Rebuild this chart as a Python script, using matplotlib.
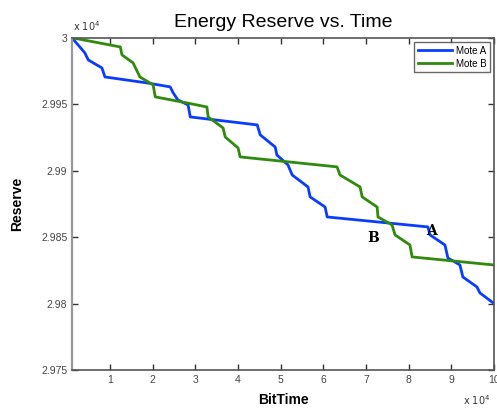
import matplotlib
matplotlib.use("Agg")
import matplotlib.pyplot as plt
from matplotlib.ticker import FuncFormatter

# Mote A (blue) - BitTime, Reserve
bit_time_a = [1100, 4100, 4900, 8100, 8800, 18700, 24100, 24800, 25900, 28300, 28800,
              44500, 45200, 48700, 49100, 51700, 52700, 56400, 56900, 60400, 60900,
              84500, 85000, 88500, 89200, 92000, 92700, 96000, 96700, 99800]
reserve_a = [30000, 29988.7, 29983.4, 29977.4, 29970.6, 29966.1, 29963.1, 29958.6, 29953.3,
             29949.5, 29940.5, 29934.5, 29927.0, 29917.9, 29911.9, 29904.4, 29896.8, 29887.8,
             29880.3, 29872.7, 29865.2, 29857.7, 29851.7, 29844.1, 29834.3, 29829.1, 29820.0,
             29812.5, 29808.0, 29800.5]

# Mote B (green)
bit_time_b = [1300, 12400, 12800, 15400, 17000, 20100, 20600, 28100, 32700, 33000, 36500,
              37000, 40000, 40500, 63200, 63900, 68600, 69100, 72600, 72800, 76100, 76800,
              80300, 80800, 99800]
reserve_b = [30000, 29993.2, 29987.2, 29981.2, 29970.6, 29964.6, 29955.6, 29951.0, 29948.0,
             29940.5, 29932.2, 29925.4, 29917.2, 29910.4, 29902.9, 29896.8, 29887.8, 29880.3,
             29872.7, 29865.2, 29859.2, 29851.7, 29844.1, 29835.1, 29829.1]

x_ticks = [10000, 20000, 30000, 40000, 50000, 60000, 70000, 80000, 90000, 100000]
y_ticks = [29750, 29800, 29850, 29900, 29950, 30000]

fig = plt.figure(figsize=(4.97, 4.12), dpi=100)
ax = fig.add_axes([0.145, 0.102, 0.849, 0.806])

ax.plot(bit_time_a, reserve_a, color='#0a3cff', lw=2.0, label='Mote A')
ax.plot(bit_time_b, reserve_b, color='#2f8a0e', lw=2.0, label='Mote B')

ax.set_xlim(1100, 100000)
ax.set_ylim(29750, 30000)
ax.set_xticks(x_ticks)
ax.set_yticks(y_ticks)
fmt = FuncFormatter(lambda v, p: '%g' % round(v / 1e4, 4))
ax.xaxis.set_major_formatter(fmt)
ax.yaxis.set_major_formatter(fmt)
ax.tick_params(direction='in', length=4, width=1, top=True, right=True,
               labelsize=7.5, labelcolor='#444444', color='#333333')
for lbl in ax.get_xticklabels() + ax.get_yticklabels():
    lbl.set_family('Liberation Sans')
for s in ax.spines.values():
    s.set_color('#555555')
    s.set_linewidth(1.2)
ax.spines['left'].set_color('#999999')
ax.spines['left'].set_linewidth(1.6)

ax.set_title('Energy Reserve vs. Time', fontsize=14, family='Liberation Sans', pad=8)
ax.set_xlabel('BitTime', fontsize=10, fontweight='bold', family='Liberation Sans', labelpad=6)
ax.set_ylabel('Reserve', fontsize=10, fontweight='bold', family='Liberation Sans', labelpad=12)

fig.text(0.147, 0.925, r'x 10$^4$', fontsize=7, color='#333333')
fig.text(0.932, 0.018, r'x 10$^4$', fontsize=7, color='#333333')

ax.text(84000, 29855, 'A', fontsize=10, fontweight='bold', family='DejaVu Serif',
        ha='left', va='center')
ax.text(73000, 29849, 'B', fontsize=10, fontweight='bold', family='DejaVu Serif',
        ha='right', va='center')

leg = ax.legend(loc='upper right', fontsize=7, frameon=True, fancybox=False,
                borderaxespad=0.4, handlelength=3.5, labelspacing=0.3, borderpad=0.4,
                handletextpad=0.4, prop={'family': 'Liberation Sans', 'size': 7})
leg.get_frame().set_edgecolor('#444444')
leg.get_frame().set_linewidth(1.0)

fig.savefig('out.png', dpi=100)
